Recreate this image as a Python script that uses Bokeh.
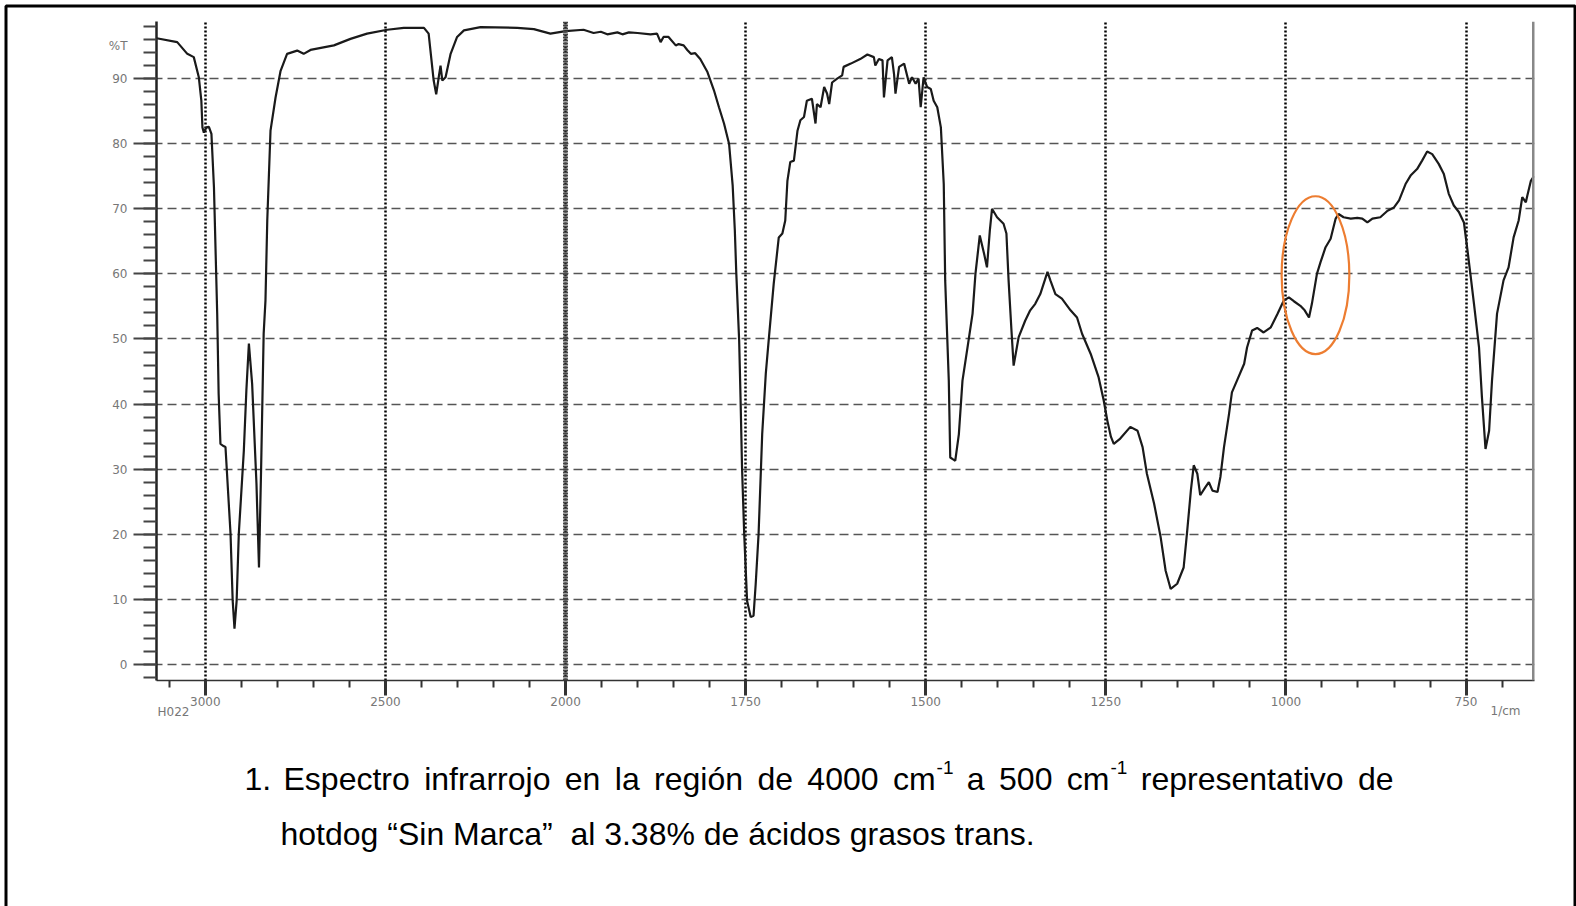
import numpy as np
from bokeh.plotting import figure
from bokeh.models import (Range1d, FixedTicker, CustomJSTickFormatter, Span, Label,
                          ColumnDataSource, GridBox, Plot)
from bokeh.embed import file_html
from bokeh.resources import INLINE

# ---------------- data ----------------
wavenumber = [
    3135, 3078, 3050, 3032, 3018, 3011, 3008, 3004, 2997, 2990, 2983, 2976, 2967, 2963,
    2958, 2951, 2944, 2930, 2924, 2919, 2913, 2907, 2893, 2886, 2879, 2870, 2858, 2851,
    2845, 2838, 2833, 2828, 2819, 2805, 2791, 2773, 2745, 2727, 2708, 2643, 2597, 2551,
    2495, 2449, 2393, 2380, 2366, 2359, 2352, 2347, 2342, 2333, 2319, 2301, 2282, 2236,
    2134, 2088, 2042, 2000, 1975, 1961, 1951, 1942, 1928, 1921, 1912, 1900, 1882, 1873,
    1868, 1864, 1857, 1847, 1843, 1836, 1831, 1826, 1820, 1813, 1803, 1794, 1787, 1780,
    1773, 1768, 1765, 1763, 1759, 1757, 1755, 1752, 1748, 1743, 1739, 1736, 1732, 1727,
    1722, 1718, 1711, 1704, 1699, 1695, 1692, 1688, 1683, 1678, 1674, 1669, 1665, 1658,
    1653, 1651, 1646, 1641, 1637, 1634, 1630, 1623, 1616, 1614, 1604, 1591, 1581, 1572,
    1570, 1565, 1560, 1558, 1553, 1547, 1544, 1542, 1537, 1530, 1523, 1519, 1514, 1510,
    1507, 1503, 1498, 1493, 1489, 1484, 1479, 1475, 1473, 1468, 1466, 1462, 1459, 1454,
    1449, 1442, 1435, 1431, 1425, 1419, 1415, 1411, 1408, 1401, 1392, 1388, 1385, 1381,
    1378, 1371, 1362, 1355, 1348, 1341, 1331, 1327, 1320, 1311, 1299, 1290, 1283, 1271,
    1260, 1253, 1248, 1243, 1239, 1230, 1216, 1206, 1199, 1193, 1183, 1174, 1167, 1160,
    1151, 1142, 1137, 1132, 1128, 1123, 1119, 1112, 1107, 1102, 1095, 1091, 1086, 1079,
    1075, 1068, 1058, 1054, 1047, 1040, 1031, 1021, 1012, 1003, 996, 989, 980, 974,
    968, 964, 957, 952, 945, 938, 931, 927, 920, 910, 901, 894, 887, 880,
    869, 859, 850, 843, 834, 827, 818, 811, 804, 797, 788, 781, 774, 767,
    760, 753, 748, 744, 739, 732, 728, 723, 718, 714, 707, 698, 691, 684,
    677, 672, 667, 665, 660, 656,
]
transmittance = [
    96.2, 95.6, 93.8, 93.3, 90.2, 86.6, 82.5, 81.7, 82.5, 82.6, 81.5, 73.3, 53.9, 41.6,
    33.9, 33.6, 33.4, 20.1, 9.8, 5.5, 9.8, 20.1, 32.9, 42.1, 49.3, 43.1, 27.8, 14.9,
    30.3, 50.8, 55.9, 68.2, 82.0, 87.1, 91.2, 93.8, 94.3, 93.8, 94.4, 95.1, 96.1, 96.9,
    97.5, 97.8, 97.8, 96.9, 89.7, 87.6, 90.2, 92.0, 89.7, 90.2, 93.8, 96.4, 97.4, 97.9,
    97.8, 97.6, 96.9, 97.3, 97.5, 97.0, 97.2, 96.8, 97.1, 96.8, 97.1, 97.0, 96.8, 96.9,
    95.6, 96.4, 96.4, 95.1, 95.3, 95.1, 94.4, 93.8, 93.9, 93.0, 91.0, 88.2, 85.6, 83.1,
    80.0, 73.6, 66.7, 60.2, 49.8, 40.6, 30.3, 20.1, 9.8, 7.3, 7.5, 12.4, 20.1, 35.4,
    44.7, 49.8, 58.5, 65.6, 66.2, 68.2, 74.3, 77.2, 77.4, 82.0, 83.6, 84.1, 86.6, 86.9,
    83.1, 86.1, 85.6, 88.7, 87.7, 86.1, 89.4, 90.0, 90.5, 91.8, 92.3, 93.0, 93.7, 93.3,
    92.0, 93.0, 92.8, 87.1, 92.8, 93.3, 90.7, 87.7, 91.8, 92.3, 89.2, 90.2, 89.2, 90.0,
    85.6, 90.2, 88.7, 88.4, 86.6, 85.6, 82.5, 73.8, 59.0, 43.6, 31.8, 31.5, 31.3, 35.4,
    43.6, 48.7, 53.9, 60.0, 65.9, 63.1, 61.0, 66.7, 70.0, 68.7, 67.7, 66.2, 59.0, 51.3,
    45.9, 50.3, 52.8, 54.4, 55.4, 56.9, 60.3, 59.0, 56.9, 56.2, 54.4, 53.3, 50.8, 47.7,
    44.1, 40.6, 37.5, 35.0, 33.9, 34.7, 36.5, 35.9, 33.4, 29.3, 24.7, 19.6, 14.4, 11.6,
    12.4, 14.9, 20.6, 26.7, 30.6, 29.3, 26.0, 27.2, 28.0, 26.7, 26.5, 28.8, 33.4, 38.5,
    41.8, 43.6, 46.2, 48.7, 51.3, 51.7, 51.0, 51.8, 53.8, 55.9, 56.4, 55.8, 55.1, 54.4,
    53.3, 55.4, 60.0, 61.8, 64.1, 65.4, 68.5, 69.2, 68.7, 68.5, 68.6, 68.5, 67.9, 68.5,
    68.7, 69.7, 70.2, 71.3, 73.8, 75.1, 76.1, 77.4, 78.8, 78.4, 76.9, 75.4, 72.3, 70.5,
    69.5, 67.9, 63.6, 60.0, 55.4, 48.7, 41.1, 33.1, 35.9, 43.6, 53.9, 59.0, 61.0, 65.6,
    68.2, 71.8, 71.0, 72.0, 74.3, 75.0,
]

x_tick_labels = [3000, 2500, 2000, 1750, 1500, 1250, 1000, 750]
y_tick_labels = [0, 10, 20, 30, 40, 50, 60, 70, 80, 90]
y_minor_ticks = list(range(-2, 99, 2))

# highlighted band (orange ellipse), cm-1 and %T
highlight_center_wn, highlight_center_T = 959, 59.8
highlight_width_wn, highlight_height_T = 94, 24.3

caption_number = "1."
# words of the justified first caption line; (word, superscript after it)
caption_line1 = [("Espectro", ""), ("infrarrojo", ""), ("en", ""), ("la", ""),
                 ("región", ""), ("de", ""), ("4000", ""), ("cm", "-1"), ("a", ""),
                 ("500", ""), ("cm", "-1"), ("representativo", ""), ("de", "")]
# second caption line, in two runs separated by a double space
caption_line2 = ["hotdog \u201cSin Marca\u201d", "al 3.38% de ácidos grasos trans."]


def ir_axis(wn):
    """Spectrometer abscissa: the region below 2000 cm-1 is drawn at double scale."""
    wn = np.asarray(wn, dtype=float)
    return np.where(wn > 2000, 2000 + (wn - 2000) / 2.0, wn)


# ---------------- geometry ----------------
W, H = 1576, 906
FL, FR, FT, FB = 156, 1534, 21, 680
X0, X1 = float(ir_axis(3135.5)), 655.0
Y0, Y1 = -2.46, 98.77


def sx(px):
    return X0 + (px - FL) * (X1 - X0) / (FR - FL)


p = figure(width=W, height=H, title=None, output_backend="svg", toolbar_location=None,
           x_range=Range1d(X0, X1), y_range=Range1d(Y0, Y1),
           min_border_left=FL, min_border_right=W - FR, min_border_top=FT,
           min_border_bottom=H - FB, outline_line_color=None,
           background_fill_color="white", border_fill_color="white")

# x axis
xa = p.xaxis[0]
xa.ticker = FixedTicker(ticks=[float(v) for v in ir_axis(x_tick_labels)],
                        minor_ticks=[float(v) for v in np.arange(700, 2551, 50)])
xa.formatter = CustomJSTickFormatter(
    code="var v = tick > 2000 ? 2000 + (tick - 2000) * 2 : tick; return String(Math.round(v));")
xa.axis_line_color = "#333333"
xa.axis_line_width = 1.5
xa.major_tick_in = 0
xa.major_tick_out = 15
xa.major_tick_line_width = 3
xa.major_tick_line_color = "#333333"
xa.minor_tick_in = 0
xa.minor_tick_out = 7
xa.minor_tick_line_width = 2
xa.minor_tick_line_color = "#333333"
xa.major_label_standoff = 1
xa.major_label_text_font = "DejaVu Sans"
xa.major_label_text_font_size = "12px"
xa.major_label_text_color = "#777777"

# y axis
ya = p.yaxis[0]
ya.ticker = FixedTicker(ticks=y_tick_labels, minor_ticks=y_minor_ticks)
ya.axis_line_color = "#222222"
ya.axis_line_width = 2.5
ya.major_tick_in = 0
ya.major_tick_out = 23
ya.major_tick_line_width = 2
ya.major_tick_line_color = "#444444"
ya.minor_tick_in = 0
ya.minor_tick_out = 13
ya.minor_tick_line_width = 2
ya.minor_tick_line_color = "#444444"
ya.major_label_standoff = 6
ya.major_label_text_font = "DejaVu Sans"
ya.major_label_text_font_size = "12px"
ya.major_label_text_color = "#777777"

# grids
p.xgrid.grid_line_color = "black"
p.xgrid.grid_line_dash = "2 2"
p.xgrid.grid_line_width = 2.5
p.ygrid.grid_line_color = "#555555"
p.ygrid.grid_line_dash = "9 5"
p.ygrid.grid_line_width = 1.5

p.add_layout(Span(location=2000, dimension="height", line_color="#444444",
                  line_width=5, line_dash="2 1"))
p.add_layout(Span(location=sx(1533), dimension="height", line_color="#888888",
                  line_width=3))

# spectrum
src = ColumnDataSource(dict(x=ir_axis(wavenumber), T=transmittance))
p.line("x", "T", source=src, line_color="#1a1a1a", line_width=2.2)

# highlight ellipse
p.ellipse(x=[float(ir_axis(highlight_center_wn))], y=[highlight_center_T],
          width=[highlight_width_wn], height=[highlight_height_T],
          fill_color=None, line_color="#ED7D31", line_width=2.2)

# ---------------- transparent page overlay (texts outside the frame, page border) ----------------
q = figure(width=W, height=H, title=None, output_backend="svg", toolbar_location=None,
           x_range=Range1d(0, W), y_range=Range1d(H, 0), x_axis_type=None, y_axis_type=None,
           min_border_left=0, min_border_right=0, min_border_top=0, min_border_bottom=0,
           outline_line_color=None, background_fill_color=None, border_fill_color=None)

if "frame_align" in Plot.properties():
    p.frame_align = False
    q.frame_align = False


def add_text(text, px, py, size, color="black", align="left", baseline="alphabetic",
             font="Liberation Sans"):
    q.add_layout(Label(x=px, y=py, text=text, text_font=font,
                       text_font_size=f"{size}px", text_color=color,
                       text_align=align, text_baseline=baseline))


add_text("%T", 127, 45, 12, "#777777", align="right", baseline="middle", font="DejaVu Sans")
add_text("H022", 157, 711, 12, "#777777", baseline="middle", font="DejaVu Sans")
add_text("1/cm", 1490, 710, 12, "#777777", baseline="middle", font="DejaVu Sans")

# Arial / Liberation Sans advance widths (1/1000 em) used to justify the first caption line
ADV = {" ": 278, ".": 278, "-": 333, "%": 889, "\u201c": 333, "\u201d": 333,
       "0": 556, "1": 556, "3": 556, "4": 556, "5": 556, "8": 556,
       "a": 556, "c": 500, "d": 556, "e": 556, "f": 278, "g": 556, "h": 556, "i": 222,
       "j": 222, "l": 222, "m": 833, "n": 556, "o": 556, "p": 556, "r": 333, "s": 500,
       "t": 278, "v": 500, "ó": 556, "á": 556, "E": 667, "S": 667, "M": 833}


def text_width(s, size):
    return sum(ADV.get(ch, 556) for ch in s) * size / 1000.0


CAP_SIZE, SUP_SIZE = 32, 19
LINE1_BASE, LINE2_BASE = 778.5, 833.5
NUM_X, TEXT_X, TEXT_RIGHT, LINE2_X = 244, 283, 1393, 280

add_text(caption_number, NUM_X, LINE1_BASE, CAP_SIZE)
widths = [text_width(w, CAP_SIZE) + text_width(s, SUP_SIZE) for w, s in caption_line1]
gap = (TEXT_RIGHT - TEXT_X - sum(widths)) / (len(caption_line1) - 1)
xpos = TEXT_X
for (word, sup), wdt in zip(caption_line1, widths):
    add_text(word, xpos, LINE1_BASE, CAP_SIZE)
    if sup:
        add_text(sup, xpos + text_width(word, CAP_SIZE) + 1, LINE1_BASE - 12, SUP_SIZE)
    xpos += wdt + gap

xpos = LINE2_X
for run in caption_line2:
    add_text(run, xpos, LINE2_BASE, CAP_SIZE)
    xpos += text_width(run, CAP_SIZE) + text_width("  ", CAP_SIZE)

# page border (left, top, right)
q.line(x=[5.5, 5.5, 1574.5, 1574.5], y=[H + 10, 5.5, 5.5, H + 10],
       line_color="black", line_width=3)

layout = GridBox(children=[(p, 0, 0), (q, 0, 0)])
open("out.html", "w").write(file_html(layout, INLINE))
